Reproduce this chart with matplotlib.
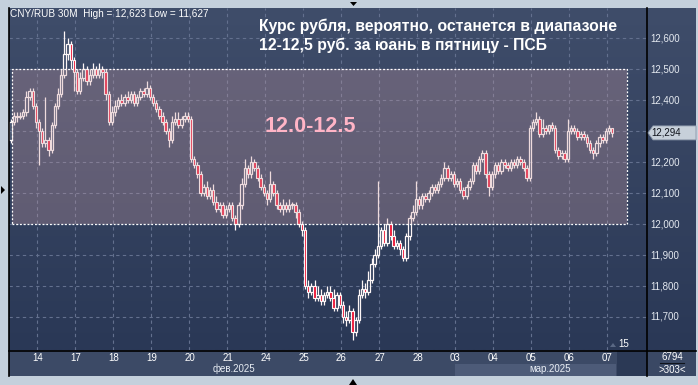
import matplotlib
matplotlib.use('Agg')
import matplotlib.pyplot as plt
import matplotlib.transforms as mtransforms
from matplotlib.patches import Rectangle, Polygon
import numpy as np

# ---------------- data (30-minute CNY/RUB candles, 13 Feb - 7 Mar 2025) ----------------
opens = [
    12.27, 12.33, 12.35, 12.345, 12.35, 12.36, 12.41, 12.43, 12.38,
    12.33, 12.30, 12.26, 12.27, 12.24, 12.32, 12.38, 12.42, 12.48, 12.55, 12.58, 12.53,
    12.49, 12.43, 12.47, 12.50, 12.46, 12.48, 12.50, 12.48, 12.50, 12.49, 12.42, 12.33,
    12.36, 12.38, 12.40, 12.39, 12.41, 12.40, 12.42, 12.39, 12.41, 12.43, 12.42, 12.44,
    12.41, 12.39, 12.37, 12.35, 12.33, 12.30, 12.27, 12.33, 12.34, 12.32, 12.34, 12.35,
    12.34, 12.21, 12.19, 12.16, 12.10, 12.12, 12.09, 12.11, 12.07, 12.05, 12.06, 12.03,
    12.05, 12.06, 12.02, 12.00, 12.06, 12.13, 12.18, 12.16, 12.20, 12.18, 12.15, 12.12,
    12.10, 12.08, 12.13, 12.10, 12.06, 12.05, 12.06, 12.05, 12.06, 12.06, 12.04, 12.00,
    11.98, 11.80, 11.78, 11.80, 11.76, 11.77, 11.75, 11.77, 11.78, 11.76, 11.73, 11.77,
    11.74, 11.70, 11.69, 11.72, 11.65, 11.69, 11.77, 11.79, 11.78, 11.82, 11.87, 11.90,
    11.93, 11.98, 11.94, 12.00, 11.96, 11.93, 11.94, 11.92, 11.89, 11.96, 12.02, 12.04,
    12.08, 12.06, 12.09, 12.08, 12.10, 12.12, 12.11, 12.13, 12.15, 12.18, 12.15, 12.16,
    12.13, 12.14, 12.11, 12.09, 12.12, 12.14, 12.19, 12.17, 12.21, 12.23, 12.16, 12.12,
    12.16, 12.19, 12.17, 12.20, 12.19, 12.18, 12.20, 12.19, 12.21, 12.20, 12.18, 12.15,
    12.31, 12.33, 12.34, 12.29, 12.31, 12.30, 12.32, 12.31, 12.24, 12.22, 12.23, 12.21,
    12.30, 12.31, 12.30, 12.28, 12.29, 12.28, 12.26, 12.24, 12.23, 12.26, 12.28, 12.27,
    12.30, 12.31,
]
highs = [
    12.34, 12.36, 12.36, 12.36, 12.37, 12.43, 12.44, 12.44, 12.39,
    12.34, 12.31, 12.41, 12.28, 12.33, 12.39, 12.44, 12.50, 12.623, 12.60, 12.59, 12.54,
    12.50, 12.49, 12.52, 12.51, 12.50, 12.52, 12.51, 12.52, 12.51, 12.50, 12.43, 12.38,
    12.40, 12.41, 12.42, 12.42, 12.43, 12.43, 12.43, 12.42, 12.44, 12.44, 12.46, 12.45,
    12.42, 12.40, 12.38, 12.36, 12.34, 12.31, 12.35, 12.36, 12.36, 12.35, 12.36, 12.36,
    12.35, 12.22, 12.20, 12.17, 12.13, 12.14, 12.12, 12.13, 12.09, 12.07, 12.07, 12.06,
    12.07, 12.07, 12.03, 12.07, 12.15, 12.21, 12.19, 12.22, 12.21, 12.19, 12.16, 12.13,
    12.11, 12.17, 12.14, 12.11, 12.07, 12.08, 12.07, 12.08, 12.07, 12.07, 12.05, 12.01,
    11.99, 11.82, 11.81, 11.82, 11.80, 11.79, 11.78, 11.80, 11.80, 11.79, 11.78, 11.78,
    11.75, 11.72, 11.74, 11.73, 11.70, 11.79, 11.82, 11.81, 11.85, 11.89, 11.92, 12.14,
    11.99, 12.00, 12.02, 12.01, 11.98, 11.95, 11.95, 11.93, 11.97, 12.03, 12.06, 12.14,
    12.09, 12.10, 12.10, 12.11, 12.13, 12.13, 12.14, 12.16, 12.20, 12.19, 12.17, 12.17,
    12.15, 12.15, 12.12, 12.13, 12.15, 12.20, 12.20, 12.22, 12.24, 12.24, 12.17, 12.17,
    12.20, 12.20, 12.21, 12.21, 12.20, 12.21, 12.21, 12.22, 12.22, 12.21, 12.19, 12.32,
    12.34, 12.36, 12.35, 12.34, 12.32, 12.32, 12.33, 12.32, 12.25, 12.24, 12.24, 12.34,
    12.32, 12.32, 12.31, 12.30, 12.30, 12.29, 12.27, 12.25, 12.27, 12.29, 12.29, 12.31,
    12.32, 12.31,
]
lows = [
    12.26, 12.32, 12.33, 12.34, 12.34, 12.35, 12.40, 12.37, 12.31,
    12.19, 12.25, 12.25, 12.22, 12.23, 12.31, 12.37, 12.41, 12.47, 12.53, 12.50, 12.43,
    12.42, 12.42, 12.46, 12.45, 12.45, 12.47, 12.47, 12.47, 12.47, 12.40, 12.32, 12.32,
    12.35, 12.37, 12.38, 12.38, 12.39, 12.39, 12.38, 12.38, 12.40, 12.41, 12.41, 12.40,
    12.38, 12.36, 12.34, 12.32, 12.29, 12.25, 12.26, 12.32, 12.31, 12.31, 12.33, 12.33,
    12.20, 12.18, 12.15, 12.09, 12.09, 12.08, 12.08, 12.06, 12.04, 12.04, 12.02, 12.02,
    12.04, 12.01, 11.98, 11.99, 12.05, 12.12, 12.15, 12.15, 12.17, 12.14, 12.11, 12.09,
    12.06, 12.07, 12.09, 12.05, 12.04, 12.03, 12.04, 12.04, 12.05, 12.02, 11.99, 11.96,
    11.79, 11.76, 11.77, 11.75, 11.75, 11.74, 11.74, 11.76, 11.75, 11.72, 11.72, 11.73,
    11.68, 11.67, 11.68, 11.627, 11.64, 11.68, 11.76, 11.76, 11.77, 11.81, 11.86, 11.89,
    11.92, 11.93, 11.93, 11.95, 11.92, 11.92, 11.90, 11.88, 11.88, 11.95, 12.01, 12.03,
    12.05, 12.05, 12.07, 12.07, 12.09, 12.10, 12.10, 12.12, 12.14, 12.14, 12.14, 12.12,
    12.12, 12.10, 12.08, 12.08, 12.11, 12.13, 12.16, 12.16, 12.20, 12.15, 12.09, 12.11,
    12.15, 12.16, 12.16, 12.18, 12.17, 12.17, 12.18, 12.18, 12.19, 12.17, 12.14, 12.14,
    12.30, 12.32, 12.28, 12.28, 12.29, 12.29, 12.30, 12.23, 12.21, 12.21, 12.20, 12.20,
    12.29, 12.29, 12.27, 12.27, 12.27, 12.25, 12.23, 12.21, 12.22, 12.25, 12.26, 12.26,
    12.29, 12.28,
]
closes = [
    12.33, 12.35, 12.345, 12.35, 12.36, 12.41, 12.43, 12.38, 12.33,
    12.30, 12.26, 12.27, 12.24, 12.32, 12.38, 12.42, 12.48, 12.55, 12.58, 12.53, 12.49,
    12.43, 12.47, 12.50, 12.46, 12.48, 12.50, 12.48, 12.50, 12.49, 12.42, 12.33, 12.36,
    12.38, 12.40, 12.39, 12.41, 12.40, 12.42, 12.39, 12.41, 12.43, 12.42, 12.44, 12.41,
    12.39, 12.37, 12.35, 12.33, 12.30, 12.27, 12.33, 12.34, 12.32, 12.34, 12.35, 12.34,
    12.21, 12.19, 12.16, 12.10, 12.12, 12.09, 12.11, 12.07, 12.05, 12.06, 12.03, 12.05,
    12.06, 12.02, 12.00, 12.06, 12.13, 12.18, 12.16, 12.20, 12.18, 12.15, 12.12, 12.10,
    12.08, 12.13, 12.10, 12.06, 12.05, 12.06, 12.05, 12.06, 12.06, 12.04, 12.00, 11.98,
    11.80, 11.78, 11.80, 11.76, 11.77, 11.75, 11.77, 11.78, 11.76, 11.73, 11.77, 11.74,
    11.70, 11.69, 11.72, 11.65, 11.69, 11.77, 11.79, 11.78, 11.82, 11.87, 11.90, 11.93,
    11.98, 11.94, 12.00, 11.96, 11.93, 11.94, 11.92, 11.89, 11.96, 12.02, 12.04, 12.08,
    12.06, 12.09, 12.08, 12.10, 12.12, 12.11, 12.13, 12.15, 12.18, 12.15, 12.16, 12.13,
    12.14, 12.11, 12.09, 12.12, 12.14, 12.19, 12.17, 12.21, 12.23, 12.16, 12.12, 12.16,
    12.19, 12.17, 12.20, 12.19, 12.18, 12.20, 12.19, 12.21, 12.20, 12.18, 12.15, 12.31,
    12.33, 12.34, 12.29, 12.31, 12.30, 12.32, 12.31, 12.24, 12.22, 12.23, 12.21, 12.30,
    12.31, 12.30, 12.28, 12.29, 12.28, 12.26, 12.24, 12.23, 12.26, 12.28, 12.27, 12.30,
    12.31, 12.294,
]
day_labels = ['14', '17', '18', '19', '20', '21', '24', '25', '26',
              '27', '28', '03', '04', '05', '06', '07']
bars_per_day = 12
first_day_bars = 9
grid_prices = [11.7, 11.8, 11.9, 12.0, 12.1, 12.2, 12.3, 12.4, 12.5, 12.6]
label_prices = [11.7, 11.8, 11.9, 12.0, 12.1, 12.2, 12.4, 12.5, 12.6]
range_low, range_high = 12.0, 12.5
last_price = 12.294
title = "Курс рубля, вероятно, останется в диапазоне\n12-12,5 руб. за юань в пятницу - ПСБ"
range_label = "12.0-12.5"
header = "CNY/RUB 30M  High = 12,623 Low = 11,627"

# ---------------- figure ----------------
W, H = 698, 385
fig = plt.figure(figsize=(W / 100, H / 100), dpi=100)
fig.patch.set_facecolor('#c4d0dc')
FONT = 'Liberation Sans'


def px_axes(x0, y0, x1, y1):
    a = fig.add_axes([x0 / W, 1 - y1 / H, (x1 - x0) / W, (y1 - y0) / H])
    a.set_axis_off()
    return a


def fx(x):
    return x / W


def fy(y):
    return 1 - y / H


# gradient background for plot + right price panel
bg = px_axes(9, 8, 696, 350)
top_c = np.array([63, 77, 106]) / 255
bot_c = np.array([42, 56, 86]) / 255
t = np.linspace(0, 1, 256)[:, None]
grad = (top_c[None, :] * (1 - t) + bot_c[None, :] * t)[:, None, :]
bg.imshow(grad, extent=[0, 1, 0, 1], aspect='auto', interpolation='bilinear')
bg.set_xlim(0, 1)
bg.set_ylim(0, 1)

# bottom date panel and corner
for (x0, y0, x1, y1, col) in [(9, 350, 647, 376, '#3c4a66'),
                              (647, 350, 696, 376, '#3a4864'),
                              (455, 364, 616, 376, '#4d5b78'),
                              (617, 351, 647, 376, '#2b3955')]:
    fig.patches.append(Rectangle((fx(x0), fy(y1)), fx(x1) - fx(x0), fy(y0) - fy(y1),
                                 transform=fig.transFigure, facecolor=col,
                                 edgecolor='none', zorder=0))

ax = px_axes(9, 8, 647, 350)
ax.set_facecolor('none')
n = len(closes)
ax.set_xlim(-0.5, 201.0)
ax.set_ylim(11.5935, 12.697)

# grid
grid_col = '#63708e'
day_starts = [bars_per_day * (k + 1) - (bars_per_day - first_day_bars) - 0.5
              for k in range(len(day_labels))]
for xs in day_starts:
    ax.axvline(xs, color=grid_col, lw=0.8, ls=(0, (3, 3)), zorder=1)
for p in grid_prices:
    ax.axhline(p, color=grid_col, lw=0.8, ls=(0, (3, 3)), zorder=1)

# candles
x = np.arange(n)
o = np.array(opens)
c = np.array(closes)
h = np.array(highs)
l = np.array(lows)
up = c >= o
top = np.maximum(o, c)
bot = np.minimum(o, c)
hgt = np.maximum(top - bot, 0.003)
edge = '#fdf6f6'
ax.vlines(x, top, h, color=edge, lw=0.9, zorder=2)
ax.vlines(x, l, bot, color=edge, lw=0.9, zorder=2)
ax.bar(x[up], hgt[up], bottom=bot[up], width=0.78, facecolor='none',
       edgecolor=edge, linewidth=0.9, zorder=2)
ax.bar(x[~up], hgt[~up], bottom=bot[~up], width=0.78, facecolor='#ee1a3a',
       edgecolor=edge, linewidth=0.8, zorder=2)

# range box overlay
bx0, bx1 = 0.45, 194.6
ax.add_patch(Rectangle((bx0, range_low), bx1 - bx0, range_high - range_low,
                       facecolor=(204 / 255, 158 / 255, 166 / 255), alpha=0.3,
                       edgecolor='none', zorder=3))
ax.add_patch(Rectangle((bx0, range_low), bx1 - bx0, range_high - range_low,
                       fill=False, edgecolor='white', lw=0.9, ls=(0, (1.5, 1.5)), zorder=4))
ax.text(0.472, 12.315, range_label,
        transform=mtransforms.blended_transform_factory(ax.transAxes, ax.transData),
        color='#ffb4c6', fontsize=15.5, fontweight='bold', family=FONT,
        ha='center', va='center', zorder=5)

# header and title
fig.text(fx(10), fy(14), header, color='white', fontsize=7.2, family=FONT,
         ha='left', va='center')
fig.text(fx(259), fy(36), title, color='white', fontsize=11.3, fontweight='bold',
         family=FONT, ha='left', va='center', linespacing=1.25)

# right price scale
blend = mtransforms.blended_transform_factory(fig.transFigure, ax.transData)
for p in label_prices:
    fig.text(fx(650), p, f"{p:.3f}".replace('.', ','),
             transform=blend, color='#e4e9f0', fontsize=7, family=FONT,
             ha='left', va='center')

# current price marker
yp = ax.transData.transform((0, last_price))[1] / H
hh = 7 / H
fig.patches.append(Polygon([[fx(648), yp], [fx(653), yp + hh], [fx(696), yp + hh],
                            [fx(696), yp - hh], [fx(653), yp - hh]],
                           closed=True, transform=fig.transFigure,
                           facecolor='#c7d0da', edgecolor='#8a96a8', lw=0.6, zorder=5))
fig.text(fx(651), yp, f"{last_price:.3f}".replace('.', ','), color='#10141c',
         fontsize=7, family=FONT, ha='left', va='center', zorder=6)

# date labels
blend_x = mtransforms.blended_transform_factory(ax.transData, fig.transFigure)
for xs, lab in zip(day_starts, day_labels):
    fig.text(xs, fy(358), lab, transform=blend_x, color='white', fontsize=7,
             family=FONT, ha='center', va='center')
fig.text(fx(234), fy(369), 'фев.2025', color='#e8edf4', fontsize=7, family=FONT,
         ha='center', va='center')
fig.text(fx(550), fy(369), 'мар.2025', color='#e8edf4', fontsize=7, family=FONT,
         ha='center', va='center')

# misc labels
fig.text(fx(618), fy(344), '15', color='white', fontsize=7, family=FONT,
         ha='left', va='center')
fig.patches.append(Polygon([[fx(610), fy(347)], [fx(616), fy(347)], [fx(613), fy(343)]],
                           closed=True, transform=fig.transFigure, facecolor='#5a6884',
                           edgecolor='none'))
fig.text(fx(672), fy(357), '6794', color='white', fontsize=7, family=FONT,
         ha='center', va='center')
fig.lines.append(plt.Line2D([fx(660), fx(684)], [fy(363), fy(363)], transform=fig.transFigure,
                            color='#10141c', lw=0.8))
fig.text(fx(672), fy(370), '>303<', color='white', fontsize=7, family=FONT,
         ha='center', va='center')

# separator lines
for xs, ys in [([fx(647), fx(647)], [fy(8), fy(376)]),
               ([fx(9), fx(696)], [fy(350.5), fy(350.5)]),
               ([fx(8.5), fx(8.5)], [fy(8), fy(376)])]:
    fig.lines.append(plt.Line2D(xs, ys, transform=fig.transFigure, color='black', lw=1.2))

# small navigation triangles
for pts in ([[350, 2], [357, 2], [353.5, 6]],
            [[349, 385], [357, 385], [353, 379]],
            [[1, 186], [1, 194], [5, 190]]):
    fig.patches.append(Polygon([[fx(a), fy(b)] for a, b in pts], closed=True,
                               transform=fig.transFigure, facecolor='black',
                               edgecolor='none'))

fig.savefig('out.png', dpi=100, facecolor=fig.get_facecolor())
